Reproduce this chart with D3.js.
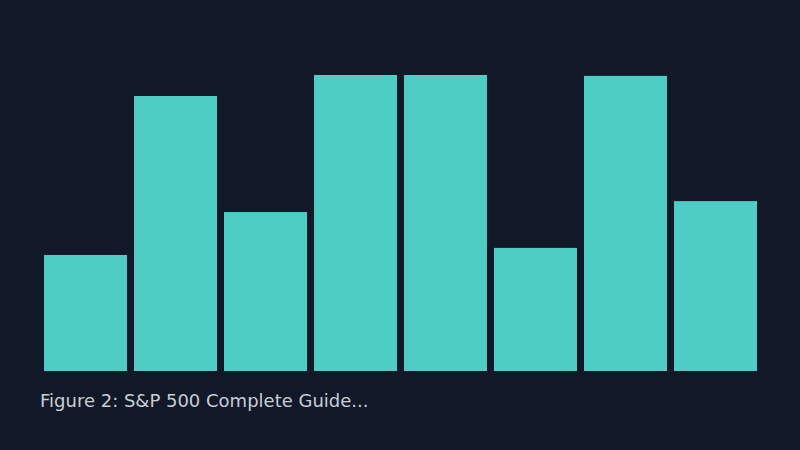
<!DOCTYPE html>
<html>
<head>
<meta charset="utf-8">
<script src="https://cdn.jsdelivr.net/npm/d3@7"></script>
<style>
  html, body { margin: 0; padding: 0; background: #111827; }
  svg { display: block; }
</style>
</head>
<body>
<svg id="chart" width="800" height="450"></svg>
<script>
// bar categories and values (relative to the tallest bar)
var categories = ["A", "B", "C", "D", "E", "F", "G", "H"];
var values = [39.2, 92.9, 53.7, 100, 100, 41.6, 99.7, 57.4];
var caption = "Figure 2: S&P 500 Complete Guide...";

var svg = d3.select("#chart");

svg.append("rect")
  .attr("width", 800)
  .attr("height", 450)
  .attr("fill", "#111827");

var x = d3.scaleBand()
  .domain(categories)
  .range([40.5, 760.5])
  .paddingInner(0.078)
  .paddingOuter(0.039);

var y = d3.scaleLinear()
  .domain([0, 100])
  .range([371, 75]);

// bars
svg.selectAll("rect.bar")
  .data(values)
  .enter().append("rect")
    .attr("class", "bar")
    .attr("x", function(d, i) { return x(categories[i]); })
    .attr("y", function(d) { return y(d); })
    .attr("width", x.bandwidth())
    .attr("height", function(d) { return y(0) - y(d); })
    .attr("fill", "#4ecdc4");

// caption under the chart
svg.append("text")
  .attr("x", 40)
  .attr("y", 407)
  .attr("font-family", "DejaVu Sans, sans-serif")
  .attr("font-size", 18)
  .attr("fill", "#c9ced6")
  .text(caption);
</script>
</body>
</html>
